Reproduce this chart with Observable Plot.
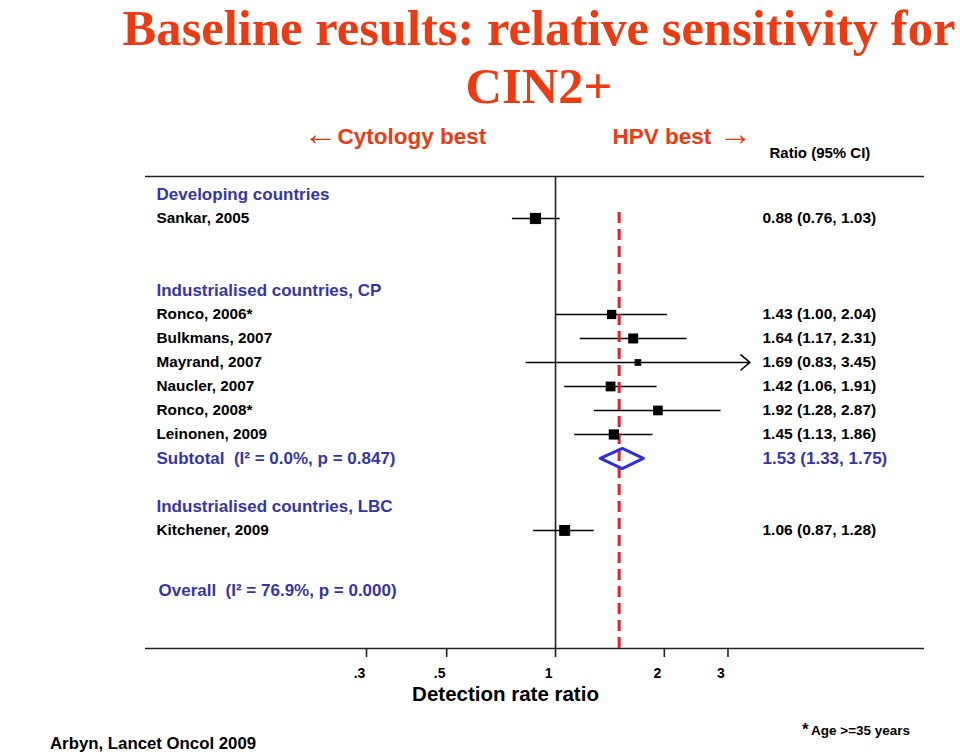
<!DOCTYPE html>
<html>
<head>
<meta charset="utf-8">
<script src="https://cdn.jsdelivr.net/npm/d3@7"></script>
<script src="https://cdn.jsdelivr.net/npm/@observablehq/plot@0.6"></script>
<style>
html, body { margin: 0; padding: 0; background: #fff; overflow: hidden; }
#page { position: relative; width: 960px; height: 755px; }
.title { position: absolute; left: 118px; width: 842px; text-align: center; white-space: nowrap;
  font-family: "Liberation Serif", "Times New Roman", serif; font-weight: bold; font-size: 50.6px;
  line-height: 56px; color: #ec3a12; }
#chart { position: absolute; left: 0; top: 110px; }
.foot { position: absolute; font-family: "Liberation Sans", Arial, sans-serif; font-weight: bold;
  white-space: nowrap; color: #000; }
</style>
</head>
<body>
<div id="page">
  <div class="title" style="top:0px">Baseline results: relative sensitivity for</div>
  <div class="title" style="top:58px">CIN2+</div>
  <div id="chart"></div>
  <div class="foot" style="left:50px; top:736px; font-size:16.8px; line-height:16.8px;">Arbyn, Lancet Oncol 2009</div>
  <div class="foot" style="left:802px; top:721px; font-size:17px; line-height:17px;">*</div>
  <div class="foot" style="left:811px; top:724px; font-size:13.5px; line-height:13.5px;">Age &gt;=35 years</div>
</div>
<script>
// ---- Data ----
const rowLabels = [
  "Developing countries", "Sankar, 2005",
  "Industrialised countries, CP", "Ronco, 2006*", "Bulkmans, 2007", "Mayrand, 2007",
  "Naucler, 2007", "Ronco, 2008*", "Leinonen, 2009", "Subtotal  (I² = 0.0%, p = 0.847)",
  "Industrialised countries, LBC", "Kitchener, 2009", "Overall  (I² = 76.9%, p = 0.000)"
];
const rowOrder = [0, 1, 4, 5, 6, 7, 8, 9, 10, 11, 13, 14, 16.5];
const rowKind = ["group", "study", "group", "study", "study", "study", "study", "study", "study",
  "subtotal", "group", "study", "overall"];

const studies = ["Sankar, 2005", "Ronco, 2006*", "Bulkmans, 2007", "Mayrand, 2007",
  "Naucler, 2007", "Ronco, 2008*", "Leinonen, 2009", "Kitchener, 2009"];
const studyRow = [1, 5, 6, 7, 8, 9, 10, 14];
const ratio = [0.88, 1.43, 1.64, 1.69, 1.42, 1.92, 1.45, 1.06];
const lower = [0.76, 1.00, 1.17, 0.83, 1.06, 1.28, 1.13, 0.87];
const upper = [1.03, 2.04, 2.31, 3.45, 1.91, 2.87, 1.86, 1.28];
const weight = [12.5, 8.6, 10.0, 4.5, 9.6, 9.4, 10.5, 12.0];

const subtotalRow = 11;
const subtotalRatio = 1.53, subtotalLower = 1.33, subtotalUpper = 1.75;
const overallRatio = 1.50;

const xTicks = [0.3, 0.5, 1, 2, 3];
const xTickLabels = [".3", ".5", "1", "2", "3"];
const xDomain = [0.0734, 10.49];
const yDomain = [-0.75, 18.92];

// ---- Build tables ----
const rows = rowLabels.map((label, i) => ({label, row: rowOrder[i], kind: rowKind[i]}));
const data = studies.map((s, i) => ({
  study: s, row: studyRow[i], ratio: ratio[i], lower: lower[i], upper: upper[i], weight: weight[i],
  text: `${ratio[i].toFixed(2)} (${lower[i].toFixed(2)}, ${upper[i].toFixed(2)})`
}));
const ticks = xTicks.map((t, i) => ({value: t, label: xTickLabels[i]}));
const maxTick = d3.max(xTicks);
const sub = [{row: subtotalRow, text: `${subtotalRatio.toFixed(2)} (${subtotalLower.toFixed(2)}, ${subtotalUpper.toFixed(2)})`}];
const dh = 0.42;
const diamond = [
  {x: subtotalLower, y: subtotalRow},
  {x: subtotalRatio, y: subtotalRow - dh},
  {x: subtotalUpper, y: subtotalRow},
  {x: subtotalRatio, y: subtotalRow + dh}
];

const blue = "#3535a8";
const diamondBlue = "#2e2edc";
const red = "#e3202a";
const orange = "#ec3a12";
const font = "Liberation Sans, Arial, sans-serif";
const arrowFont = "Liberation Serif, Times New Roman, serif";

const chart = Plot.plot({
  width: 960,
  height: 645,
  marginLeft: 145,
  marginRight: 36,
  marginTop: 66,
  marginBottom: 107,
  style: {fontFamily: font, background: "transparent", color: "#000"},
  x: {type: "log", domain: xDomain},
  y: {domain: yDomain, reverse: true, axis: null},
  r: {type: "sqrt", domain: [0, 12.5], range: [0, 6.3]},
  marks: [
    Plot.ruleY([yDomain[0]], {stroke: "#222", strokeWidth: 1.6}),
    Plot.ruleY([yDomain[1]], {stroke: "#222", strokeWidth: 1.6}),
    Plot.ruleX([1], {stroke: "#222", strokeWidth: 1.6}),
    Plot.axisX({ticks: xTicks, tickFormat: () => "", tickSize: 9, label: null, stroke: "#222", strokeWidth: 1.6}),
    Plot.text(ticks, {x: "value", text: "label", frameAnchor: "bottom", dy: 29.5, dx: -7,
      lineAnchor: "bottom", textAnchor: "middle", fontSize: 14, fontWeight: "bold", fill: "#000"}),
    Plot.ruleY(data.filter(d => d.upper <= maxTick), {y: "row", x1: "lower", x2: "upper", stroke: "#000", strokeWidth: 1.6}),
    Plot.arrow(data.filter(d => d.upper > maxTick), {x1: "lower", x2: "upper", y1: "row", y2: "row",
      stroke: "#000", strokeWidth: 1.6, headLength: 11, headAngle: 80}),
    Plot.ruleX([overallRatio], {y1: 0.75, y2: yDomain[1], stroke: red, strokeWidth: 3, strokeDasharray: "11,6"}),
    Plot.dot(data, {x: "ratio", y: "row", r: "weight", symbol: "square", fill: "#000", stroke: "none"}),
    Plot.line(diamond, {x: "x", y: "y", curve: "linear-closed", stroke: diamondBlue, strokeWidth: 3}),
    // left labels
    Plot.text(rows.filter(d => d.kind === "group" || d.kind === "subtotal"), {y: "row", text: "label",
      frameAnchor: "left", dx: 11, textAnchor: "start", fill: blue, fontSize: 17, fontWeight: "bold"}),
    Plot.text(rows.filter(d => d.kind === "overall"), {y: "row", text: "label",
      frameAnchor: "left", dx: 13, textAnchor: "start", fill: blue, fontSize: 17, fontWeight: "bold"}),
    Plot.text(rows.filter(d => d.kind === "study"), {y: "row", text: "label",
      frameAnchor: "left", dx: 11, textAnchor: "start", fill: "#000", fontSize: 15.3, fontWeight: "bold"}),
    // right values
    Plot.text(data, {y: "row", text: "text", frameAnchor: "right", dx: -162, textAnchor: "start",
      fill: "#000", fontSize: 15.5, fontWeight: "bold"}),
    Plot.text(sub, {y: "row", text: "text", frameAnchor: "right", dx: -162, textAnchor: "start",
      fill: blue, fontSize: 17, fontWeight: "bold"}),
    // headers
    Plot.text(["Ratio (95% CI)"], {text: d => d, frameAnchor: "top-right", dx: -155, dy: -19,
      lineAnchor: "bottom", textAnchor: "start", fontSize: 15, fontWeight: "bold", fill: "#000"}),
    Plot.text(["\u2190"], {text: d => d, frameAnchor: "top-left", dx: 158, dy: -42,
      lineAnchor: "middle", textAnchor: "start", fontSize: 34, fontWeight: "normal", fontFamily: arrowFont, fill: orange}),
    Plot.text(["Cytology best"], {text: d => d, frameAnchor: "top-left", dx: 192, dy: -33,
      lineAnchor: "bottom", textAnchor: "start", fontSize: 22.5, fontWeight: "bold", fill: orange}),
    Plot.text(["HPV best"], {text: d => d, frameAnchor: "top-left", dx: 467, dy: -33,
      lineAnchor: "bottom", textAnchor: "start", fontSize: 22.5, fontWeight: "bold", fill: orange}),
    Plot.text(["\u2192"], {text: d => d, frameAnchor: "top-left", dx: 573, dy: -42,
      lineAnchor: "middle", textAnchor: "start", fontSize: 34, fontWeight: "normal", fontFamily: arrowFont, fill: orange}),
    Plot.text(["Detection rate ratio"], {text: d => d, frameAnchor: "bottom", dx: -29.5, dy: 52,
      lineAnchor: "bottom", textAnchor: "middle", fontSize: 20.5, fontWeight: "bold", fill: "#000"})
  ]
});
document.getElementById("chart").appendChild(chart);
</script>
</body>
</html>
